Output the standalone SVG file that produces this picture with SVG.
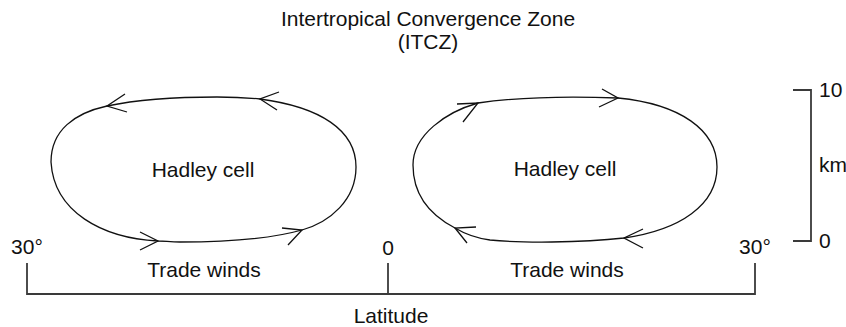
<svg xmlns="http://www.w3.org/2000/svg" width="846" height="327" viewBox="0 0 846 327">
<style>
text{font-family:"Liberation Sans",Arial,sans-serif;font-size:21px;fill:#111}
.loop{fill:none;stroke:#111;stroke-width:1.3}
.arr{fill:none;stroke:#111;stroke-width:1.3}
.axis{fill:none;stroke:#3a3a3a;stroke-width:1.8}
</style>
<rect width="846" height="327" fill="#fff"/>
<g id="title">
<text x="428" y="26" text-anchor="middle">Intertropical Convergence Zone</text>
<text x="428" y="49" text-anchor="middle">(ITCZ)</text>
</g>
<g id="cell-left">
<path class="loop" d="M 51 162 C 51 130 75 113 107 106 C 140 99 180 97 217 97 C 235 97 250 98 260 99 C 320 107 356 130 356 167 C 356 200 330 222 302 230 C 270 239 220 242 180 242 C 170 242 165 241 158 241 C 102 238 54 212 51 162 Z"/>
<text x="203" y="177" text-anchor="middle">Hadley cell</text>
</g>
<g id="cell-right">
<path class="loop" d="M 413 165 C 413 135 446 112 478 103 C 520 97 570 96 618 98 C 680 104 717 130 717 167 C 717 205 680 230 624 238 C 580 243 520 243 490 240 C 475 238 465 234 455 228 C 430 215 413 195 413 165 Z"/>
<text x="565" y="176" text-anchor="middle">Hadley cell</text>
</g>
<g id="connectors">
<polyline class="arr" points="125,94 107,106 127,112"/>
<polyline class="arr" points="279,92 260,99 277,110"/>
<polyline class="arr" points="140,232 158,241 140,250"/>
<polyline class="arr" points="282,228 302,230 288,245"/>
<polyline class="arr" points="457,104 478,103 463,122"/>
<polyline class="arr" points="602,89 618,98 599,107"/>
<polyline class="arr" points="643,229 624,238 643,248"/>
<polyline class="arr" points="476,227 455,228 467,243"/>
</g>
<g id="latitude-axis">
<polyline class="axis" points="27,263 27,294 755,294 755,263"/>
<line class="axis" x1="388" y1="263" x2="388" y2="294"/>
<text x="27" y="254" text-anchor="middle">30°</text>
<text x="388" y="255" text-anchor="middle">0</text>
<text x="755" y="254" text-anchor="middle">30°</text>
<text x="204" y="277" text-anchor="middle">Trade winds</text>
<text x="567" y="277" text-anchor="middle">Trade winds</text>
<text x="391" y="323" text-anchor="middle">Latitude</text>
</g>
<g id="height-scale">
<polyline class="axis" points="793,90 811,90 811,241 793,241"/>
<text x="819" y="97">10</text>
<text x="819" y="172">km</text>
<text x="819" y="248">0</text>
</g>
</svg>
